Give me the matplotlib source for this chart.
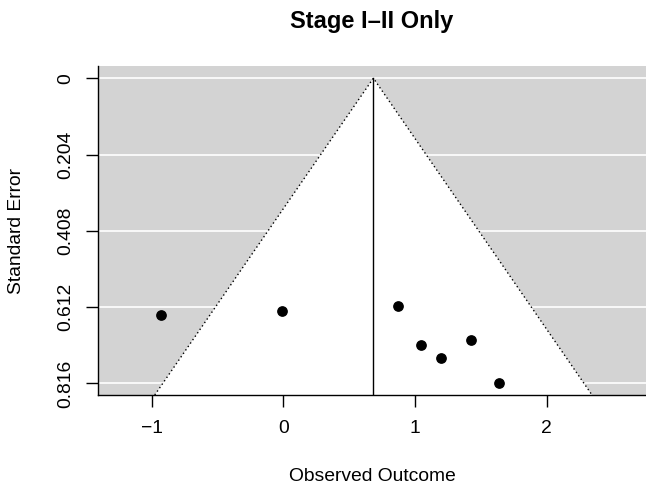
import numpy as np
import matplotlib
matplotlib.use("Agg")
import matplotlib.pyplot as plt

plt.rcParams['font.family'] = ['Liberation Sans', 'DejaVu Sans']

# observed outcomes and standard errors
yi = [-0.929, -0.013, 0.872, 1.042, 1.197, 1.422, 1.637]
sei = [0.633, 0.622, 0.608, 0.712, 0.749, 0.701, 0.816]
est = 0.683  # pooled estimate (vertical line)
yticks = [0, 0.204, 0.408, 0.612, 0.816]
ytick_labels = ['0', '0.204', '0.408', '0.612', '0.816']
xticks = [-1, 0, 1, 2]
xtick_labels = ['\u22121', '0', '1', '2']

fig = plt.figure(figsize=(6.46, 4.92), dpi=100)
ax = fig.add_axes([98/646, 97/492, 548/646, 329/492])

xlim = (-1.408, 2.753)
ylim = (max(sei) * 1.038, -max(sei) * 0.04)
ax.set_xlim(xlim)
ax.set_ylim(ylim)
ax.set_facecolor('#D3D3D3')

for t in yticks:
    ax.axhline(t, color='white', lw=1.2, zorder=1)

# pseudo confidence region
se_bot = ylim[0]
tri_x = [est - 1.96 * se_bot, est, est + 1.96 * se_bot]
tri_y = [se_bot, 0, se_bot]
ax.fill(tri_x, tri_y, color='white', zorder=2, lw=0)
ax.plot(tri_x, tri_y, color='black', ls=(0, (1, 2)), lw=1, zorder=3)
ax.plot([est, est], [0, se_bot], color='black', lw=1, zorder=3)

ax.scatter(yi, sei, s=45, color='black', zorder=4)

ax.set_xticks(xticks)
ax.set_xticklabels(xtick_labels)
ax.set_yticks(yticks)
ax.set_yticklabels(ytick_labels, rotation=90, va='center')
ax.tick_params(axis='both', length=8.3, width=1, labelsize=13.9, color='black')
ax.tick_params(axis='x', pad=10)
ax.tick_params(axis='y', pad=9)

for side in ['top', 'right']:
    ax.spines[side].set_visible(False)
for side in ['left', 'bottom']:
    ax.spines[side].set_linewidth(1)
    ax.spines[side].set_zorder(5)

fig.text(372/646, 1 - 21.7/492, 'Stage I\u2013II Only', ha='center', va='center',
         fontsize=17, fontweight='bold')
fig.text(372/646, 1 - 476.7/492, 'Observed Outcome', ha='center', va='center',
         fontsize=13.9)
fig.text(17/646, 1 - 230.5/492, 'Standard Error', ha='center', va='center',
         rotation=90, fontsize=13.9)

fig.savefig('out.png', dpi=100)
